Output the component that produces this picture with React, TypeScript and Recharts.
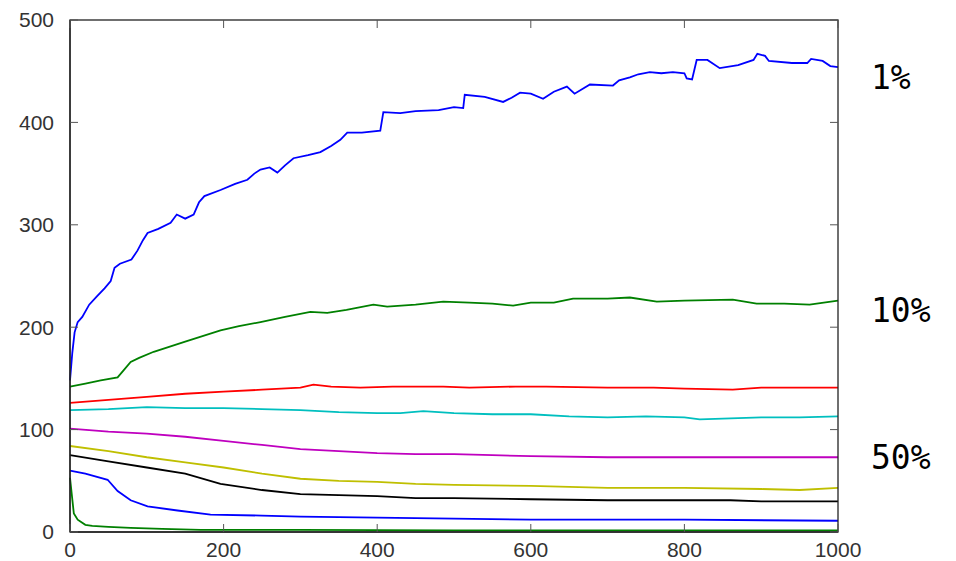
import { LineChart, Line, XAxis, YAxis } from 'recharts';

// [x, value] pairs, one list per curve
const blueTop = [
  [0, 148], [3, 175], [6, 195], [10, 205], [16, 210], [25, 222], [35, 230], [45, 238],
  [53, 245], [58, 258], [65, 262], [80, 266], [88, 275], [95, 285], [101, 292], [115, 296],
  [131, 302], [139, 310], [150, 306], [161, 310], [168, 322], [175, 328], [196, 334],
  [215, 340], [231, 344], [240, 350], [248, 354], [260, 356], [270, 351], [280, 358],
  [291, 365], [310, 368], [326, 371], [340, 377], [352, 383], [361, 390], [380, 390],
  [404, 392], [408, 410], [430, 409], [450, 411], [480, 412], [500, 415], [512, 414],
  [514, 427], [540, 425], [564, 420], [575, 424], [586, 429], [600, 428], [616, 423],
  [630, 430], [647, 435], [657, 428], [677, 437], [707, 436], [715, 441], [729, 444],
  [740, 447], [755, 449], [770, 448], [785, 449], [800, 448], [803, 443], [810, 442],
  [816, 461], [830, 461], [846, 453], [870, 456], [890, 461], [895, 467], [905, 465],
  [910, 460], [940, 458], [960, 458], [965, 462], [980, 460], [990, 455], [1000, 454],
];
const greenTop = [
  [0, 142], [20, 145], [40, 148], [62, 151], [70, 158], [79, 166], [90, 170], [109, 176],
  [150, 186], [196, 197], [220, 201], [248, 205], [280, 210], [313, 215], [335, 214],
  [360, 217], [395, 222], [413, 220], [450, 222], [486, 225], [520, 224], [550, 223],
  [577, 221], [600, 224], [630, 224], [655, 228], [700, 228], [729, 229], [764, 225],
  [800, 226], [863, 227], [894, 223], [930, 223], [963, 222], [1000, 226],
];
const red = [
  [0, 126], [50, 129], [100, 132], [150, 135], [200, 137], [250, 139], [300, 141],
  [317, 144], [340, 142], [378, 141], [420, 142], [486, 142], [520, 141], [580, 142],
  [620, 142], [700, 141], [760, 141], [800, 140], [863, 139], [900, 141], [1000, 141],
];
const cyan = [
  [0, 119], [50, 120], [100, 122], [150, 121], [200, 121], [250, 120], [300, 119],
  [350, 117], [400, 116], [430, 116], [460, 118], [500, 116], [550, 115], [600, 115],
  [650, 113], [700, 112], [750, 113], [800, 112], [820, 110], [860, 111], [900, 112],
  [950, 112], [1000, 113],
];
const magenta = [
  [0, 101], [50, 98], [100, 96], [150, 93], [200, 89], [250, 85], [300, 81], [350, 79],
  [400, 77], [450, 76], [500, 76], [550, 75], [600, 74], [700, 73], [800, 73], [900, 73],
  [1000, 73],
];
const yellow = [
  [0, 84], [50, 79], [100, 73], [150, 68], [200, 63], [250, 57], [300, 52], [350, 50],
  [400, 49], [450, 47], [500, 46], [600, 45], [700, 43], [800, 43], [900, 42], [950, 41],
  [1000, 43],
];
const black = [
  [0, 75], [50, 69], [100, 63], [150, 57], [196, 47], [250, 41], [300, 37], [350, 36],
  [400, 35], [450, 33], [500, 33], [600, 32], [700, 31], [800, 31], [860, 31], [900, 30],
  [1000, 30],
];
const blueLow = [
  [0, 60], [20, 57], [49, 51], [62, 40], [79, 31], [101, 25], [140, 21], [183, 17],
  [250, 16], [300, 15], [400, 14], [500, 13], [600, 12], [800, 12], [1000, 11],
];
const greenLow = [
  [0, 53], [5, 18], [10, 12], [14, 10], [20, 7], [29, 6], [50, 5], [79, 4], [120, 3],
  [170, 2], [300, 2], [500, 1.5], [1000, 1.5],
];

const xTicks = [0, 200, 400, 600, 800, 1000];
const yTicks = [0, 100, 200, 300, 400, 500];
const sideLabels = ['1%', '10%', '50%'];
const sideLabelValues = [444, 217, 73];

const series = [
  { name: 'blueTop', pts: blueTop, color: '#0000ff' },
  { name: 'greenTop', pts: greenTop, color: '#008000' },
  { name: 'red', pts: red, color: '#ff0000' },
  { name: 'cyan', pts: cyan, color: '#00bfbf' },
  { name: 'magenta', pts: magenta, color: '#bf00bf' },
  { name: 'yellow', pts: yellow, color: '#bfbf00' },
  { name: 'black', pts: black, color: '#000000' },
  { name: 'blueLow', pts: blueLow, color: '#0000ff' },
  { name: 'greenLow', pts: greenLow, color: '#008000' },
];

const W = 956;
const H = 561;
const LEFT = 70;
const RIGHT = 838;
const TOP = 20;
const BOTTOM = 532;
const TICK = 8; // inward tick length

const tickFont = { fontFamily: '"Liberation Sans", Arial, sans-serif', fontSize: 21, fill: '#333' };
const axisLine = { stroke: '#222', strokeWidth: 1.3 };

const toX = (v: number) => LEFT + (v / 1000) * (RIGHT - LEFT);
const toY = (v: number) => BOTTOM - (v / 500) * (BOTTOM - TOP);

export default function App() {
  return (
    <div style={{ position: 'absolute', left: 0, top: 0, width: W, height: H, background: '#fff' }}>
      <LineChart width={W} height={H} margin={{ top: TOP, right: W - RIGHT, bottom: 0, left: 0 }}>
        <XAxis
          dataKey="x"
          type="number"
          domain={[0, 1000]}
          ticks={xTicks}
          height={H - BOTTOM}
          tickLine={false}
          tickMargin={4}
          tick={tickFont}
          axisLine={axisLine}
        />
        <YAxis
          type="number"
          domain={[0, 500]}
          ticks={yTicks}
          width={LEFT}
          tickLine={false}
          tickMargin={10}
          tick={tickFont}
          axisLine={axisLine}
        />
        {series.map((s) => (
          <Line
            key={s.name}
            data={s.pts.map(([x, v]) => ({ x, v }))}
            dataKey="v"
            type="linear"
            stroke={s.color}
            strokeWidth={1.8}
            dot={false}
            isAnimationActive={false}
          />
        ))}
      </LineChart>
      {/* frame, inward ticks and the side labels */}
      <svg
        width={W}
        height={H}
        style={{ position: 'absolute', left: 0, top: 0, pointerEvents: 'none' }}
      >
        <rect
          x={LEFT}
          y={TOP}
          width={RIGHT - LEFT}
          height={BOTTOM - TOP}
          fill="none"
          stroke="#222"
          strokeWidth={1.3}
        />
        {xTicks.map((t) => (
          <g key={'x' + t} stroke="#555" strokeWidth={1}>
            <line x1={toX(t)} x2={toX(t)} y1={BOTTOM} y2={BOTTOM - TICK} />
            <line x1={toX(t)} x2={toX(t)} y1={TOP} y2={TOP + TICK} />
          </g>
        ))}
        {yTicks.map((t) => (
          <g key={'y' + t} stroke="#555" strokeWidth={1}>
            <line x1={LEFT} x2={LEFT + TICK} y1={toY(t)} y2={toY(t)} />
            <line x1={RIGHT} x2={RIGHT - TICK} y1={toY(t)} y2={toY(t)} />
          </g>
        ))}
        {sideLabels.map((t, i) => (
          <text
            key={t}
            x={871}
            y={toY(sideLabelValues[i]) + 12}
            fontFamily='"DejaVu Sans Mono", monospace'
            fontSize={33}
            fill="#000"
          >
            {t}
          </text>
        ))}
      </svg>
    </div>
  );
}
